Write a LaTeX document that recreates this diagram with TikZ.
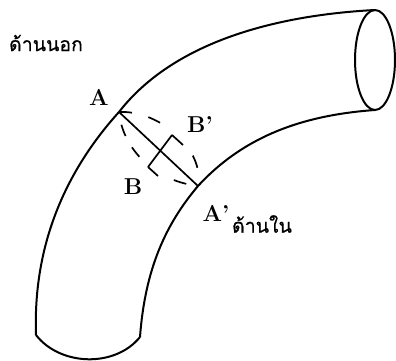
\documentclass[tikz,border=0pt]{standalone}
\usepackage{fontspec}
\newfontfamily\thaifont[Script=Thai,FakeBold=0.6]{Loma}
\usetikzlibrary{calc}
\tikzset{
  pipeline/.style={line width=2pt, line join=round},
  sectionline/.style={line width=1.7pt},
  letterlabel/.style={font=\fontsize{23}{23}\selectfont\bfseries, inner sep=0pt},
  thailabel/.style={font=\fontsize{19.5}{19.5}\selectfont\thaifont, inner sep=0pt}
}
\begin{document}
\begin{tikzpicture}[x=1pt, y=-1pt]
\useasboundingbox (0,0) rectangle (396,361);

% Key points of the section
\coordinate (ptA) at (119,112);
\coordinate (ptAp) at (198,186);
\coordinate (ptB) at (148,167);
\coordinate (ptBp) at (172,135);

% Outer and inner walls
\draw[pipeline] (36,335) .. controls (33,250) and (62,175) .. (ptA)
  .. controls (175,40) and (280,15) .. (375,10);
\draw[pipeline] (140,337) .. controls (145,270) and (165,225) .. (ptAp)
  .. controls (245,135) and (305,115) .. (375,110);

% Pipe ends
\draw[pipeline] (375,60) ellipse (20 and 50);
\draw[pipeline] (36,335) .. controls (60,366) and (115,368) .. (140,337);

% Section through the bend
\draw[sectionline] (ptA) -- (ptAp);
\draw[sectionline] (ptB) -- (ptBp);
\draw[sectionline] (ptB) -- ++(10,9);
\draw[sectionline] (ptBp) -- ++(11,10);

% Dashed section outline
\draw[sectionline, dash pattern=on 0pt off 13pt on 12pt off 13pt on 12pt off 42pt on 13pt off 100pt] (ptA) .. controls (122,145) and (150,180) .. (ptAp);
\draw[sectionline, dash pattern=on 13pt off 17pt on 13pt off 47pt on 13pt off 100pt] (ptA) .. controls (160,110) and (205,150) .. (ptAp);

% Labels
\node[letterlabel] (lblA) at (99,97) {A};
\node[letterlabel] (lblB) at (133,187) {B};
\node[letterlabel] (lblBp) at (200,125) {B'};
\node[letterlabel] (lblAp) at (216,213) {A'};
\node[thailabel] (lblOuter) at (46,43) {ด้านนอก};
\node[thailabel] (lblInner) at (262,224) {ด้านใน};

\end{tikzpicture}
\end{document}
